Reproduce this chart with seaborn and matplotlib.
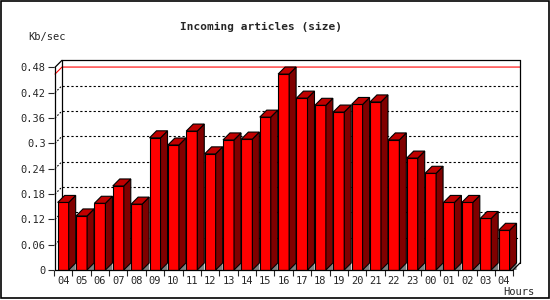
import matplotlib
matplotlib.use("Agg")
import matplotlib.pyplot as plt
from matplotlib.patches import Polygon, Rectangle
import seaborn as sns
import pandas as pd

# ------------------------------------------------------
# DATA
hours = ['04', '05', '06', '07', '08', '09', '10', '11', '12', '13', '14', '15', '16',
         '17', '18', '19', '20', '21', '22', '23', '00', '01', '02', '03', '04']
kbps = [0.160, 0.128, 0.158, 0.199, 0.156, 0.313, 0.296, 0.329, 0.275, 0.308, 0.310, 0.362, 0.464,
        0.407, 0.390, 0.374, 0.392, 0.398, 0.308, 0.265, 0.229, 0.160, 0.160, 0.122, 0.094]
yticks = [0, 0.06, 0.12, 0.18, 0.24, 0.30, 0.36, 0.42, 0.48]
ytick_labels = ['0', '0.06', '0.12', '0.18', '0.24', '0.3', '0.36', '0.42', '0.48']

df = pd.DataFrame({'slot': range(len(kbps)), 'kbps': kbps})

# ------------------------------------------------------
sns.set_style("white")
plt.rcParams['font.family'] = ['DejaVu Sans Mono', 'DejaVu Sans']

W, H = 550, 300
fig = plt.figure(figsize=(5.5, 3.0), dpi=100)
fig.patch.set_facecolor('white')
ax = fig.add_axes([54 / W, 30 / H, 466 / W, 210 / H])

sns.barplot(data=df, x='slot', y='kbps', color='#ff0000', saturation=1, width=0.6,
            edgecolor='black', linewidth=0.8, ax=ax, zorder=3)

x0, x1 = -0.445, 24.868
ymax = 0.4973
dx, dy = 0.38, 0.0166  # fake depth of the 3d look
ax.set_xlim(x0, x1)
ax.set_ylim(0, ymax)
for s in ax.spines.values():
    s.set_visible(False)

# side + top faces, grey floor shadow
for p in list(ax.patches):
    xl, w, h = p.get_x(), p.get_width(), p.get_height()
    xr = xl + w
    ax.add_patch(Polygon([(xr, 0), (xr + dx, dy), (xr + dx, 0)], closed=True,
                         facecolor='#808080', edgecolor='none', zorder=2))
    ax.add_patch(Polygon([(xr, 0), (xr, h), (xr + dx, h + dy), (xr + dx, dy)], closed=True,
                         facecolor='#800000', edgecolor='black', linewidth=0.8, zorder=3))
    ax.add_patch(Polygon([(xl, h), (xl + dx, h + dy), (xr + dx, h + dy), (xr, h)], closed=True,
                         facecolor='#c00000', edgecolor='black', linewidth=0.8, zorder=3))

# back wall grid
for t in yticks[1:-1]:
    ax.plot([x0 + dx, x1], [t + dy, t + dy], color='black', lw=0.8, ls=(0, (2, 2)), zorder=1)
    ax.plot([x0, x0 + dx], [t, t + dy], color='black', lw=0.8, ls=(0, (1.5, 1.5)), zorder=1)

# max line
mx = max(kbps)
ax.plot([x0, x0 + dx, x1], [mx, mx + dy, mx + dy], color='#ff0000', lw=0.8, zorder=1, clip_on=False)

# frame
frame = dict(color='black', lw=0.9, clip_on=False, zorder=4)
ax.plot([x0, x0], [0, 0.48], **frame)
ax.plot([x0, x0 + dx], [0.48, 0.48 + dy], **frame)
ax.plot([x0 + dx, x1], [0.48 + dy, 0.48 + dy], **frame)
ax.plot([x0 + dx, x0 + dx], [dy, 0.48 + dy], color='black', lw=0.9, zorder=1)
ax.plot([x1, x1], [dy, 0.48 + dy], **frame)
ax.plot([x0, x1 - dx], [0, 0], **frame)
ax.plot([x1 - dx, x1], [0, dy], **frame)

# ticks
ax.set_yticks(yticks)
ax.set_yticklabels(ytick_labels)
ax.tick_params(axis='y', direction='out', length=4, width=0.8, pad=2, labelsize=7.5, left=True)
ax.set_xticks(range(len(hours)))
ax.set_xticklabels(hours)
ax.set_xticks([i - 0.5 for i in range(len(hours) + 1)], minor=True)
ax.tick_params(axis='x', which='major', length=0, pad=4, labelsize=7.5)
ax.tick_params(axis='x', which='minor', direction='out', length=4, width=0.8, bottom=True)
ax.set_xlabel('')
ax.set_ylabel('')

fig.text(261 / W, 1 - 27 / H, 'Incoming articles (size)', ha='center', va='center',
         fontsize=8, fontweight='bold')
fig.text(28 / W, 1 - 37 / H, 'Kb/sec', ha='left', va='center', fontsize=7.5)
fig.text(534 / W, 1 - 292 / H, 'Hours', ha='right', va='center', fontsize=7.5)

fig.patches.append(Rectangle((0.5 / W, 2.5 / H), 548.5 / W, 297 / H, transform=fig.transFigure,
                             fill=False, edgecolor='black', linewidth=1.2))

fig.savefig('out.png', dpi=100)
